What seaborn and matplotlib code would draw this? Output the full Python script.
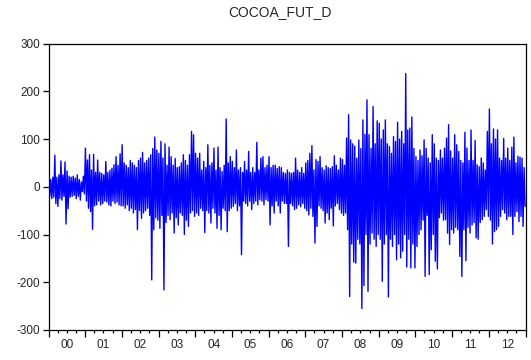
import numpy as np
import pandas as pd
import matplotlib
matplotlib.use("Agg")
import matplotlib.pyplot as plt
import matplotlib.dates as mdates
from matplotlib.transforms import blended_transform_factory
import seaborn as sns

title = "COCOA_FUT_D"
years = list(range(2000, 2013))
year_labels = [f"{y % 100:02d}" for y in years]
y_ticks = [-300, -200, -100, 0, 100, 200, 300]

# Alternating daily swings (upper / lower), one row per year, 2000..2012
upper_swings = [
    18, 15, 20, 66, 20, 25, 54, 25, 52, 33, 22, 20, 22, 18, 25, 15, 10, 22,
    81, 56, 67, 35, 68, 30, 56, 30, 28, 25, 53, 30, 35, 39, 46, 63, 45, 69,
    88, 50, 45, 40, 55, 50, 45, 40, 55, 60, 72, 50, 55, 60, 67, 80, 104, 77,
    70, 95, 60, 90, 45, 83, 63, 45, 59, 40, 42, 50, 67, 55, 45, 67, 116, 109,
    70, 60, 70, 35, 53, 40, 88, 45, 50, 81, 35, 83, 40, 32, 45, 142, 50, 63,
    53, 40, 77, 35, 40, 30, 53, 35, 74, 30, 40, 30, 93, 35, 60, 63, 40, 45,
    63, 40, 45, 45, 38, 42, 40, 30, 28, 35, 30, 28, 30, 60, 35, 30, 40, 28,
    50, 55, 70, 86, 35, 57, 53, 63, 40, 35, 44, 40, 38, 42, 65, 45, 35, 60,
    57, 45, 102, 151, 98, 90, 85, 60, 98, 80, 140, 110, 182, 109, 80, 168, 90, 138,
    133, 100, 119, 140, 90, 84, 70, 105, 95, 135, 100, 116, 90, 237, 119, 123, 146, 80,
    63, 55, 77, 65, 98, 80, 60, 50, 109, 90, 60, 55, 77, 60, 81, 102, 130, 75,
    60, 109, 88, 74, 55, 50, 114, 81, 55, 119, 55, 97, 46, 42, 60, 50, 35, 116,
    163, 90, 121, 100, 119, 60, 55, 101, 60, 81, 55, 83, 104, 50, 64, 62, 60, 40,
]
lower_swings = [
    -20, -25, -22, -35, -41, -25, -28, -20, -78, -46, -22, -20, -18, -25, -20, -28, -10, -15,
    -30, -45, -52, -89, -40, -38, -30, -38, -35, -30, -32, -38, -40, -30, -35, -32, -38, -40,
    -40, -45, -38, -50, -45, -55, -48, -90, -50, -66, -55, -50, -45, -60, -195, -90, -65, -70,
    -87, -60, -216, -75, -60, -69, -55, -97, -65, -80, -55, -60, -100, -70, -83, -55, -50, -62,
    -55, -60, -45, -50, -96, -50, -55, -76, -45, -55, -87, -60, -90, -45, -50, -94, -50, -45,
    -41, -35, -50, -40, -142, -30, -35, -40, -30, -48, -35, -30, -38, -27, -30, -38, -27, -30,
    -80, -40, -55, -30, -40, -55, -30, -35, -35, -125, -35, -40, -48, -45, -38, -42, -35, -45,
    -50, -59, -45, -62, -118, -83, -40, -45, -50, -76, -55, -69, -45, -82, -40, -35, -48, -55,
    -60, -55, -90, -230, -120, -158, -160, -110, -120, -255, -207, -100, -219, -120, -97, -110, -125, -100,
    -110, -198, -120, -100, -231, -110, -125, -100, -153, -120, -149, -135, -100, -168, -110, -170, -120, -170,
    -125, -100, -90, -70, -188, -60, -184, -132, -100, -156, -172, -65, -55, -70, -69, -97, -121, -90,
    -97, -85, -90, -146, -188, -90, -155, -85, -97, -80, -75, -107, -110, -75, -69, -62, -48, -62,
    -70, -120, -94, -90, -83, -62, -48, -55, -69, -62, -62, -100, -62, -52, -73, -62, -83, -41,
]

values = np.empty(2 * len(upper_swings))
values[0::2] = upper_swings
values[1::2] = lower_swings
dates = pd.date_range("2000-01-03", "2012-12-28", periods=len(values))
df = pd.DataFrame({"date": dates, "value": values})

sns.set_style("ticks")
plt.rcParams["font.family"] = ["Liberation Sans", "DejaVu Sans"]

fig = plt.figure(figsize=(5.31, 3.60), dpi=100)
ax = fig.add_axes([48.5 / 531, 1 - 330 / 360, (525.5 - 48.5) / 531, (330 - 43.5) / 360])

sns.lineplot(data=df, x="date", y="value", ax=ax, color="#0000FF",
             linewidth=1.0, estimator=None, sort=False)

ax.set_xlim(pd.Timestamp("2000-01-01"), pd.Timestamp("2013-01-01"))
ax.set_ylim(-300, 300)
ax.set_yticks(y_ticks)
ax.set_yticklabels([str(v) for v in y_ticks], fontsize=8.5)
ax.set_xlabel("")
ax.set_ylabel("")

ax.xaxis.set_major_locator(mdates.YearLocator())
ax.xaxis.set_minor_locator(mdates.MonthLocator(bymonth=[4, 7, 10]))
ax.xaxis.set_major_formatter(plt.NullFormatter())
ax.tick_params(axis="x", which="major", direction="out", length=5, width=0.9, color="black")
ax.tick_params(axis="x", which="minor", direction="out", length=2.5, width=0.9, color="black")
ax.tick_params(axis="y", direction="out", length=4, width=0.9, color="black", pad=2)

trans = blended_transform_factory(ax.transData, ax.transAxes)
for yr, lab in zip(years, year_labels):
    mid = mdates.date2num(pd.Timestamp(f"{yr}-07-02"))
    ax.text(mid, -0.053, lab, transform=trans, ha="center", va="center", fontsize=8.5)

for s in ax.spines.values():
    s.set_visible(True)
    s.set_color("black")
    s.set_linewidth(0.9)

fig.text(280 / 531, 1 - 12 / 360, title, ha="center", va="center", fontsize=10)

fig.savefig("out.png", dpi=100)
